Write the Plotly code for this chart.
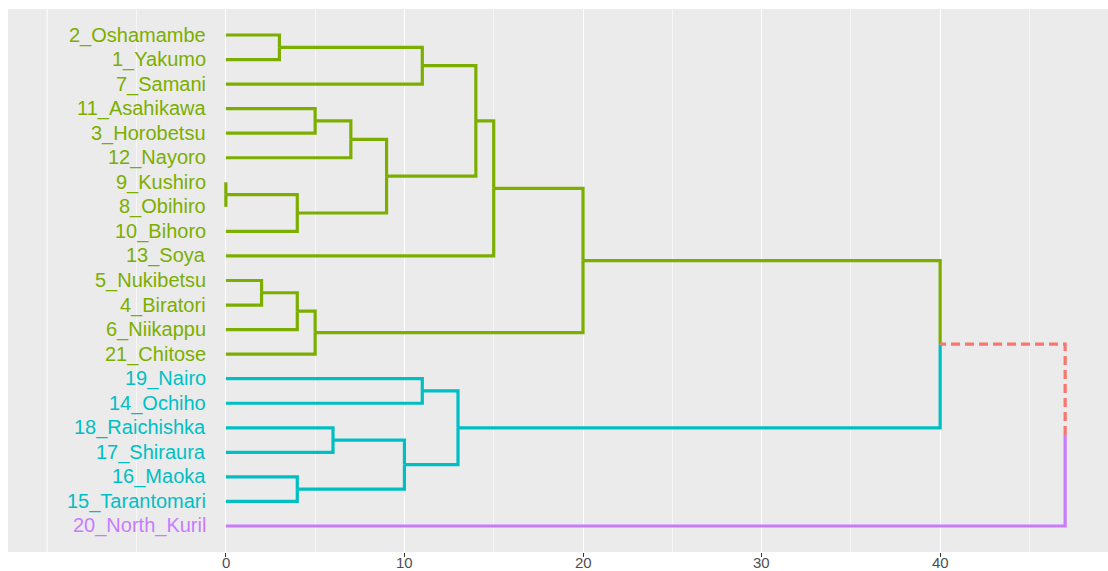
import plotly.graph_objects as go

# Leaves in display order (top to bottom)
leaf_labels = [
    "2_Oshamambe", "1_Yakumo", "7_Samani", "11_Asahikawa", "3_Horobetsu",
    "12_Nayoro", "9_Kushiro", "8_Obihiro", "10_Bihoro", "13_Soya",
    "5_Nukibetsu", "4_Biratori", "6_Niikappu", "21_Chitose", "19_Nairo",
    "14_Ochiho", "18_Raichishka", "17_Shiraura", "16_Maoka",
    "15_Tarantomari", "20_North_Kuril",
]
leaf_cluster = [1] * 14 + [2] * 6 + [3]

# Agglomeration steps: children are leaf labels or earlier merges ("m<i>")
merge_left = ["9_Kushiro", "5_Nukibetsu", "2_Oshamambe", "m1", "m0", "16_Maoka",
              "11_Asahikawa", "m3", "18_Raichishka", "m6", "m9", "m8", "m2",
              "19_Nairo", "m13", "m12", "m15", "m16", "m17", "m18"]
merge_right = ["8_Obihiro", "4_Biratori", "1_Yakumo", "6_Niikappu", "10_Bihoro",
               "15_Tarantomari", "3_Horobetsu", "21_Chitose", "17_Shiraura",
               "12_Nayoro", "m4", "m5", "7_Samani", "14_Ochiho", "m11", "m10",
               "13_Soya", "m7", "m14", "20_North_Kuril"]
merge_height = [0, 2, 3, 4, 4, 4, 5, 5, 6, 7, 9, 10, 11, 11, 13, 14, 15, 20, 40, 47]

x_ticks = [0, 10, 20, 30, 40]

cluster_colors = {1: "#7CAE00", 2: "#00BFC4", 3: "#C77CFF", 0: "#F8766D"}
font_family = "Liberation Sans, Arial, sans-serif"

# Node geometry: vertical position, height, cluster (0 = mixed)
node_y, node_h, node_c = {}, {}, {}
for i, lab in enumerate(leaf_labels):
    node_y[lab] = i + 1
    node_h[lab] = 0
    node_c[lab] = leaf_cluster[i]

segments = {k: ([], []) for k in cluster_colors}
for i, (a, b, h) in enumerate(zip(merge_left, merge_right, merge_height)):
    key = f"m{i}"
    node_y[key] = (node_y[a] + node_y[b]) / 2
    node_h[key] = h
    node_c[key] = node_c[a] if node_c[a] == node_c[b] else 0
    for child in (a, b):
        xs, ys = segments[node_c[child]]
        xs += [h, h, node_h[child], None]
        ys += [node_y[key], node_y[child], node_y[child], None]

fig = go.Figure()
for c, (xs, ys) in segments.items():
    fig.add_trace(go.Scatter(
        x=xs, y=ys, mode="lines", hoverinfo="skip", showlegend=False,
        line=dict(color=cluster_colors[c], width=3.2,
                  dash="9px,5px" if c == 0 else "solid"),
    ))

for i, lab in enumerate(leaf_labels):
    fig.add_annotation(
        x=-1, y=i + 1, text=lab, showarrow=False, xanchor="right",
        yanchor="middle", font=dict(size=20, color=cluster_colors[leaf_cluster[i]]),
    )

# height-axis labels, set tight under the panel
for v in x_ticks:
    fig.add_annotation(
        x=v, y=0, yref="paper", text=str(v), showarrow=False, xanchor="center",
        yanchor="top", yshift=-1, borderpad=0,
        font=dict(family=font_family, size=15, color="#4D4D4D"),
    )

# extra grid line left of zero
fig.add_shape(type="line", x0=-10, x1=-10, y0=0, y1=1, yref="paper",
              line=dict(color="white", width=1.3), layer="below")

fig.update_xaxes(
    range=[-12.2, 49.4], tickvals=x_ticks, showticklabels=False,
    showgrid=True, gridcolor="white", gridwidth=1.3,
    minor=dict(dtick=5, tick0=0, showgrid=True, gridcolor="#F7F7F7", gridwidth=0.7),
    ticks="outside", ticklen=4, tickcolor="#333333", tickwidth=1,
    zeroline=False, showline=False, automargin=False,
)
fig.update_yaxes(
    range=[22.06, -0.06], showgrid=False, showticklabels=False, zeroline=False,
    ticks="", automargin=False,
)
fig.update_layout(
    width=1108, height=571,
    margin=dict(l=8, r=0, t=9, b=19),
    plot_bgcolor="#EBEBEB", paper_bgcolor="white",
    font=dict(family=font_family),
)
fig.write_html("out.html")
